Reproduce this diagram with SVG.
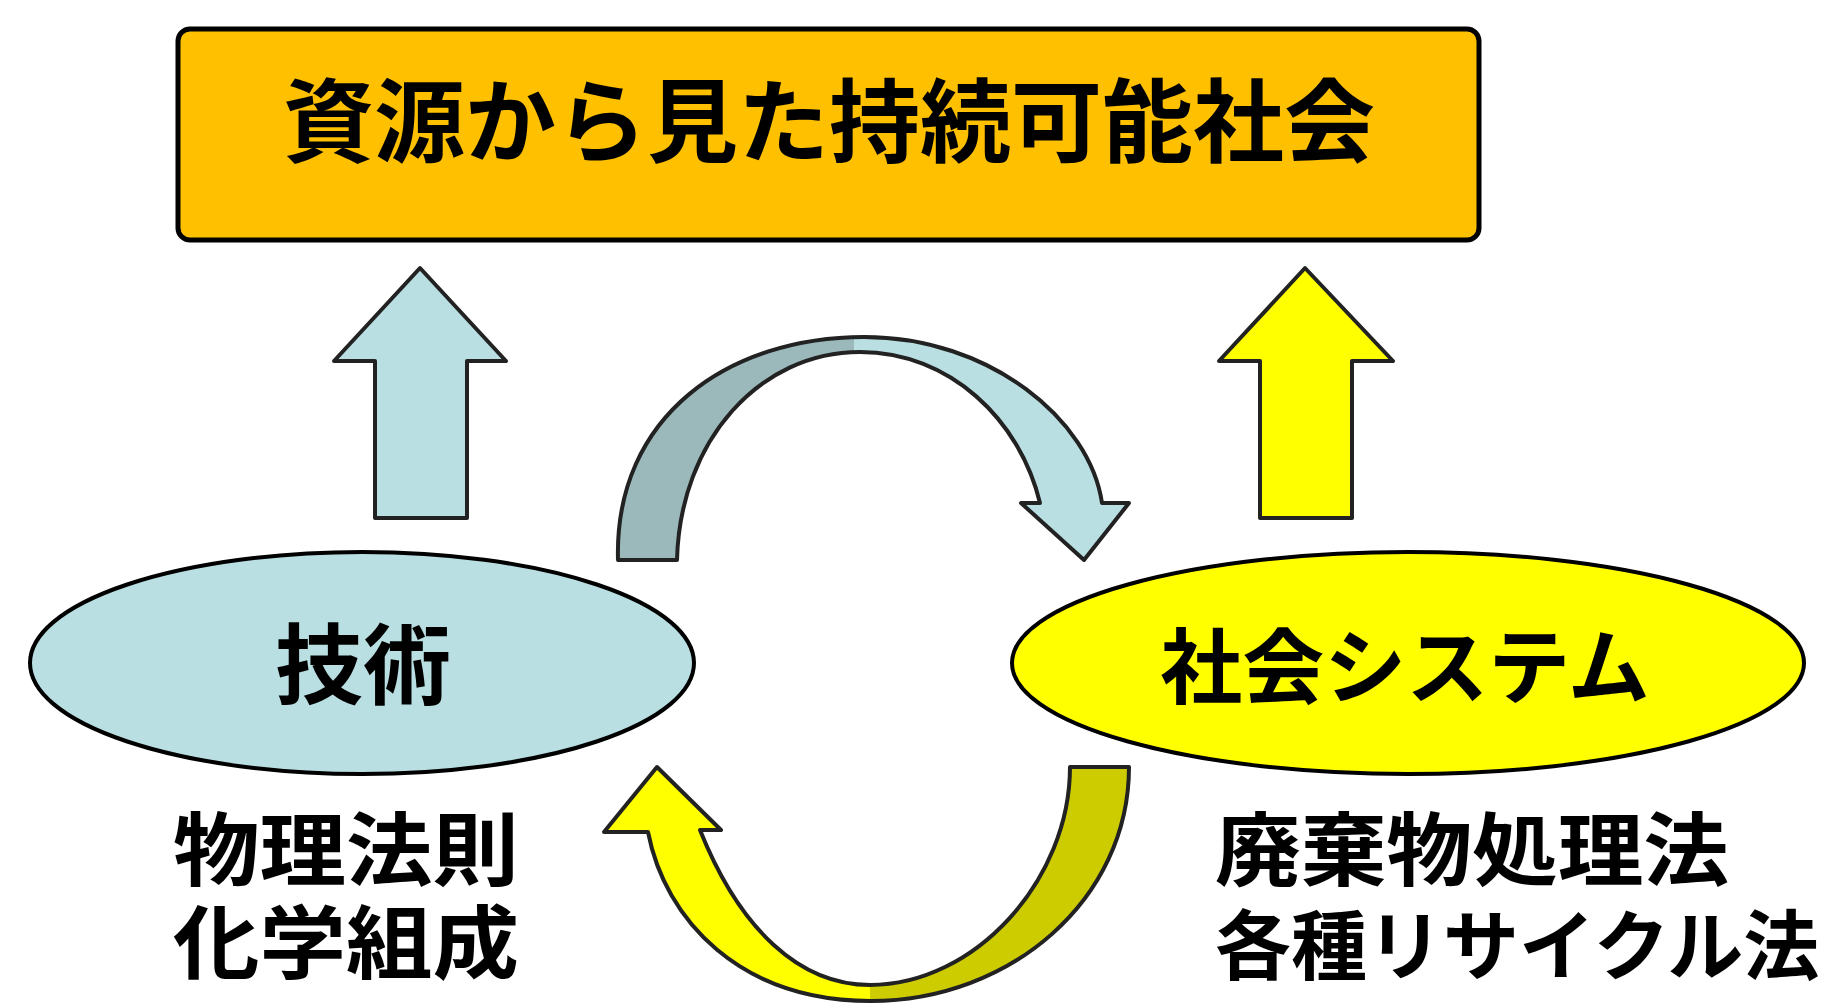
<svg xmlns="http://www.w3.org/2000/svg" width="1838" height="1003" viewBox="0 0 1838 1003">
  <style>
    .jp { font-family: "Noto Sans CJK JP", "Noto Sans CJK SC", sans-serif; font-weight: bold; fill: #000000; }
    .outline { stroke: #222222; stroke-width: 4; stroke-linejoin: round; }
  </style>
  <defs>
    <linearGradient id="gTop" gradientUnits="userSpaceOnUse" x1="600" y1="0" x2="1140" y2="0">
      <stop offset="0" stop-color="#9BB9BB"/>
      <stop offset="0.47" stop-color="#9BB9BB"/>
      <stop offset="0.47" stop-color="#B9DFE2"/>
      <stop offset="1" stop-color="#B9DFE2"/>
    </linearGradient>
    <linearGradient id="gBot" gradientUnits="userSpaceOnUse" x1="600" y1="0" x2="1140" y2="0">
      <stop offset="0" stop-color="#FFFF00"/>
      <stop offset="0.5" stop-color="#FFFF00"/>
      <stop offset="0.5" stop-color="#CCCC00"/>
      <stop offset="1" stop-color="#CCCC00"/>
    </linearGradient>
  </defs>
  <rect width="1838" height="1003" fill="#FFFFFF"/>

  <g id="title-node">
    <rect x="178" y="29" width="1301" height="211" rx="12" fill="#FFC000" stroke="#000000" stroke-width="5"/>
    <text class="jp" x="829" y="155" font-size="91" text-anchor="middle">資源から見た持続可能社会</text>
  </g>

  <g id="gijutsu-node">
    <ellipse cx="362" cy="663" rx="332" ry="111" fill="#B9DFE2" stroke="#000000" stroke-width="4"/>
    <text class="jp" x="363" y="697" font-size="88" text-anchor="middle">技術</text>
  </g>

  <g id="shakai-node">
    <ellipse cx="1408" cy="663" rx="396" ry="111" fill="#FFFF00" stroke="#000000" stroke-width="4"/>
    <text class="jp" x="1405" y="697" font-size="82" text-anchor="middle">社会システム</text>
  </g>

  <g id="gijutsu-label">
    <text class="jp" x="173" y="879" font-size="80" textLength="346" lengthAdjust="spacingAndGlyphs">物理法則</text>
    <text class="jp" x="173" y="972" font-size="80" textLength="346" lengthAdjust="spacingAndGlyphs">化学組成</text>
  </g>

  <g id="shakai-label">
    <text class="jp" x="1215" y="879" font-size="80" textLength="514" lengthAdjust="spacingAndGlyphs">廃棄物処理法</text>
    <text class="jp" x="1215" y="974" font-size="76">各種リサイクル法</text>
  </g>

  <g id="connectors">
    <polygon class="outline" fill="#B9DFE2" points="375,518 375,361 334,361 420,268 506,361 467,361 467,518"/>
    <polygon class="outline" fill="#FFFF00" stroke="#333300" points="1260,518 1260,361 1219,361 1305,268 1393,361 1352,361 1352,518"/>
    <path class="outline" fill="url(#gTop)" d="M 618,560 C 614,415 730,337 864,337 C 990,337 1090,420 1102,503 L 1129,503 L 1084,560 L 1021,503 L 1040,503 C 1020,420 950,352 860,352 C 760,352 680,440 677,560 Z"/>
    <path class="outline" fill="url(#gBot)" d="M 1070,767 L 1129,767 C 1129,900 1010,1001 871,1001 C 740,1001 665,920 648,832 L 604,832 L 657,767 L 721,830 L 700,830 C 740,930 800,985 870,985 C 975,985 1070,880 1070,767 Z"/>
  </g>
</svg>
